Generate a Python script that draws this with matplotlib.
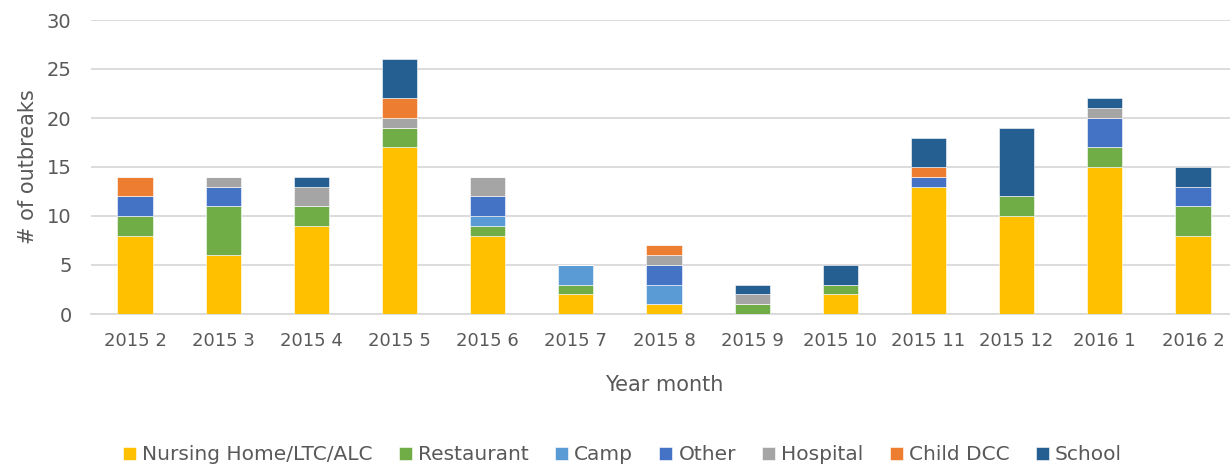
import matplotlib
matplotlib.use("Agg")
from matplotlib import pyplot as plt
import numpy as np

# Категории по месяцам
months = ['2015 2', '2015 3', '2015 4', '2015 5', '2015 6', '2015 7', '2015 8',
          '2015 9', '2015 10', '2015 11', '2015 12', '2016 1', '2016 2']

nursing = [8, 6, 9, 17, 8, 2, 1, 0, 2, 13, 10, 15, 8]
restaurant = [2, 5, 2, 2, 1, 1, 0, 1, 1, 0, 2, 2, 3]
camp = [0, 0, 0, 0, 1, 2, 2, 0, 0, 0, 0, 0, 0]
other = [2, 2, 0, 0, 2, 0, 2, 0, 0, 1, 0, 3, 2]
hospital = [0, 1, 2, 1, 2, 0, 1, 1, 0, 0, 0, 1, 0]
child_dcc = [2, 0, 0, 2, 0, 0, 1, 0, 0, 1, 0, 0, 0]
school = [0, 0, 1, 4, 0, 0, 0, 1, 2, 3, 7, 1, 2]

series = [
    ('Nursing Home/LTC/ALC', nursing, '#FFC000'),
    ('Restaurant', restaurant, '#70AD47'),
    ('Camp', camp, '#5B9BD5'),
    ('Other', other, '#4472C4'),
    ('Hospital', hospital, '#A5A5A5'),
    ('Child DCC', child_dcc, '#ED7D31'),
    ('School', school, '#255E91'),
]

text_color = '#595959'
grid_color = '#D9D9D9'

fig = plt.figure(figsize=(12.3, 4.67), dpi=100)
ax = fig.add_axes([91 / 1230, 1 - 314 / 467, 1146 / 1230, 294 / 467])

x = np.arange(len(months))
bottom = np.zeros(len(months))
for name, vals, color in series:
    vals = np.array(vals, dtype=float)
    ax.bar(x, vals, width=0.4, bottom=bottom, color=color, label=name,
           edgecolor='white', linewidth=0.4, zorder=3)
    bottom += vals

ax.set_xlim(-0.5, len(months) - 0.5)
ax.set_ylim(0, 30)
ax.set_yticks(range(0, 31, 5))
ax.set_xticks(x)
ax.set_xticklabels(months)
ax.yaxis.grid(True, color=grid_color, linewidth=1.3, zorder=0)
ax.tick_params(axis='both', length=0, colors=text_color, labelsize=13)
ax.tick_params(axis='y', labelsize=14, pad=14)
ax.tick_params(axis='x', pad=13)
for s in ['top', 'right', 'left']:
    ax.spines[s].set_visible(False)
ax.spines['bottom'].set_color(grid_color)
ax.spines['bottom'].set_linewidth(1.3)

ax.set_ylabel('# of outbreaks', fontsize=15, color=text_color, labelpad=6)
ax.set_xlabel('Year month', fontsize=15, color=text_color, labelpad=18)

handles, labels = ax.get_legend_handles_labels()
leg = fig.legend(handles, labels, loc='center', bbox_to_anchor=(0.506, 1 - 455 / 467),
                 ncol=7, frameon=False, fontsize=14.5, handlelength=0.65, handleheight=0.65,
                 handletextpad=0.3, columnspacing=1.3)
for t in leg.get_texts():
    t.set_color(text_color)

plt.savefig('out.png', dpi=100)
